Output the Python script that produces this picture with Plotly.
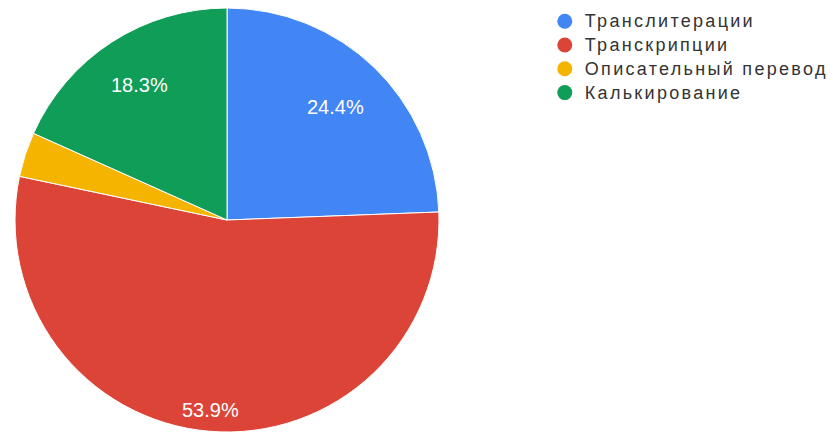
import math
import plotly.graph_objects as go

# Share of each translation method, percent
categories = ["Транслитерации", "Транскрипции", "Описательный перевод", "Калькирование"]
shares = [24.4, 53.9, 3.4, 18.3]
colors = ["#4285F4", "#DB4437", "#F4B400", "#0F9D58"]

W, H = 833, 432
cx, r = 227, 212          # pie centre x and radius, px
# distance of each percentage label from the centre, as a fraction of the radius
label_radius = [0.74, 0.9, 0.0, 0.76]
min_labelled = 5          # slices below this share get no label
legend_text_style = "font-size:18px;letter-spacing:2.3px"

fig = go.Figure()
fig.add_trace(go.Pie(
    labels=categories,
    values=shares,
    sort=False,
    direction="clockwise",
    rotation=0,
    marker=dict(colors=colors, line=dict(color="white", width=1)),
    textinfo="none",
    showlegend=False,
    hoverinfo="label+percent",
    domain=dict(x=[(cx - r) / W, (cx + r) / W], y=[0, 2 * r / H]),
))

# Percentage labels at the middle angle of each slice
total = sum(shares)
start = 0.0
for v, f in zip(shares, label_radius):
    mid = (start + v / 2) / total * 2 * math.pi
    start += v
    if v < min_labelled:
        continue
    px = cx + f * r * math.sin(mid)
    py = r + f * r * math.cos(mid)
    fig.add_annotation(
        x=px / W, y=py / H, xref="paper", yref="paper",
        text=f"{v / total * 100:.1f}%", showarrow=False,
        font=dict(color="white", size=20, family="Arial, Liberation Sans"),
        xanchor="center", yanchor="middle",
    )

# Legend entries with round markers
for name, col in zip(categories, colors):
    fig.add_trace(go.Scatter(
        x=[None], y=[None], mode="markers",
        name=f'<span style="{legend_text_style}">{name}</span>',
        marker=dict(color=col, size=15, symbol="circle"),
        showlegend=True,
    ))

fig.update_layout(
    width=W, height=H,
    margin=dict(l=0, r=0, t=0, b=0),
    paper_bgcolor="white", plot_bgcolor="white",
    font=dict(family="Arial, Liberation Sans", color="#333333"),
    xaxis=dict(visible=False), yaxis=dict(visible=False),
    legend=dict(
        x=0.654, y=0.99, xanchor="left", yanchor="top",
        font=dict(size=16, color="#333333", family="Arial, Liberation Sans"),
        tracegroupgap=0, itemwidth=30,
        bgcolor="rgba(0,0,0,0)",
    ),
)

fig.write_html("out.html")
